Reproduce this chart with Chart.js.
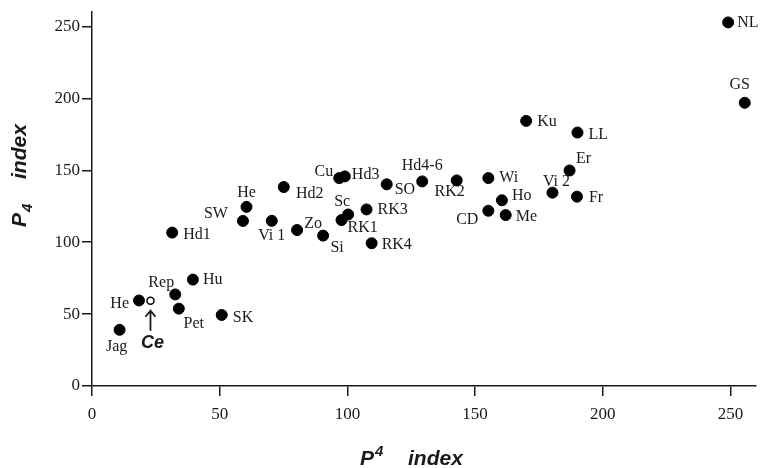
<!DOCTYPE html>
<html>
<head>
<meta charset="utf-8">
<script src="https://cdn.jsdelivr.net/npm/chart.js@4/dist/chart.umd.min.js"></script>
<style>
  html, body { margin: 0; padding: 0; background: #fff; }
  #wrap { width: 765px; height: 468px; position: relative; }
</style>
</head>
<body>
<div id="wrap"><canvas id="chart"></canvas></div>
<script>
// sites and their two indices
const sites = ['He', 'SW', 'Vi 1', 'Hd1', 'Hu', 'Rep', 'He', 'Pet', 'SK', 'Jag',
  'Hd2', 'Cu', 'Hd3', 'SO', 'Hd4-6', 'RK2', 'Zo', 'Si', 'Sc', 'RK1', 'RK3', 'RK4',
  'Wi', 'CD', 'Ho', 'Me', 'Ku', 'LL', 'Er', 'Vi 2', 'Fr', 'NL', 'GS'];
const upperIndex = [60.5, 59.1, 70.4, 31.4, 39.5, 32.6, 18.4, 34, 50.8, 10.8,
  75.1, 96.8, 99, 115.4, 129.3, 142.8, 80.3, 90.5, 100.3, 97.7, 107.5, 109.5,
  155.2, 155.2, 160.5, 162, 170, 190.1, 187, 180.3, 189.9, 249.1, 255.6];
const lowerIndex = [124.6, 114.8, 114.9, 106.7, 74, 63.7, 59.5, 53.8, 49.4, 39.1,
  138.4, 144.6, 145.8, 140.3, 142.3, 143, 108.5, 104.6, 119.3, 115.4, 122.8, 99.3,
  144.6, 121.9, 129.2, 118.9, 184.4, 176.3, 149.9, 134.5, 131.7, 252.9, 197];

// open-circle site
const ceName = 'Ce';
const ceUpper = [22.9];
const ceLower = [59.3];

const xTicks = [0, 50, 100, 150, 200, 250];
const yTicks = [0, 50, 100, 150, 200, 250];

// label placement: [dx, dy, align]
const labelPos = [
  [0, -14, 'center'], [-27, -7, 'center'], [0, 15, 'center'], [11, 2, 'left'], [10, 0, 'left'],
  [-14, -12, 'center'], [-10, 3, 'right'], [15, 15, 'center'], [11, 3, 'left'], [-3, 17, 'center'],
  [26, 7, 'center'], [-6, -6, 'right'], [7, -2, 'left'], [8, 6, 'left'], [0, -16, 'center'],
  [-7, 11, 'center'], [16, -6, 'center'], [14, 12, 'center'], [-6, -13, 'center'], [6, 8, 'left'],
  [11, 0, 'left'], [10, 2, 'left'],
  [11, 0, 'left'], [-10, 9, 'right'], [10, -4, 'left'], [10, 2, 'left'], [11, 1, 'left'],
  [11, 2, 'left'], [14, -12, 'center'], [4, -11, 'center'], [12, 1, 'left'], [9, 0, 'left'],
  [-5, -18, 'center']
];

const ink = '#1a1a1a';
const serif = '"Liberation Serif", "DejaVu Serif", serif';
const sans = '"Liberation Sans", Arial, sans-serif';

function drawTitle(ctx, x0, yb, subShift) {
  ctx.font = 'italic bold 21px ' + sans;
  ctx.fillText('P', x0, yb);
  const w = ctx.measureText('P').width;
  ctx.font = 'italic bold 15px ' + sans;
  ctx.fillText('4', x0 + w + 1, yb + subShift);
  ctx.font = 'italic bold 21px ' + sans;
  ctx.fillText('index', x0 + 48, yb);
}

const labelsPlugin = {
  id: 'siteLabels',
  afterDatasetsDraw(chart) {
    const ctx = chart.ctx;
    const meta = chart.getDatasetMeta(0);
    ctx.save();
    ctx.fillStyle = ink;
    ctx.font = '16px ' + serif;
    ctx.textBaseline = 'middle';
    meta.data.forEach((pt, i) => {
      const [dx, dy, align] = labelPos[i];
      ctx.textAlign = align;
      ctx.fillText(sites[i], pt.x + dx, pt.y + dy);
    });

    // arrow pointing at Ce and its label
    const ce = chart.getDatasetMeta(1).data[0];
    const ax = ce.x;
    const tip = ce.y + 10;
    ctx.strokeStyle = ink;
    ctx.lineWidth = 1.8;
    ctx.beginPath();
    ctx.moveTo(ax, tip + 20);
    ctx.lineTo(ax, tip);
    ctx.moveTo(ax - 5, tip + 6);
    ctx.lineTo(ax, tip);
    ctx.lineTo(ax + 5, tip + 6);
    ctx.stroke();
    ctx.font = 'italic bold 18px ' + sans;
    ctx.textAlign = 'center';
    ctx.fillText(ceName, ax + 2, tip + 32);

    // axis titles with sub/superscript
    ctx.textAlign = 'left';
    ctx.textBaseline = 'alphabetic';
    drawTitle(ctx, 360, 465, -9);

    ctx.translate(26, 227);
    ctx.rotate(-Math.PI / 2);
    drawTitle(ctx, 0, 0, 6);
    ctx.restore();
  }
};

new Chart(document.getElementById('chart'), {
  type: 'scatter',
  data: {
    datasets: [{
      data: upperIndex.map((x, i) => ({ x: x, y: lowerIndex[i] })),
      backgroundColor: '#000',
      borderColor: '#000',
      pointRadius: 5.5,
      pointHoverRadius: 5.5
    }, {
      data: ceUpper.map((x, i) => ({ x: x, y: ceLower[i] })),
      backgroundColor: '#fff',
      borderColor: '#000',
      borderWidth: 1.5,
      pointRadius: 3.5
    }]
  },
  options: {
    responsive: true,
    maintainAspectRatio: false,
    animation: false,
    layout: { padding: { top: 8, right: 9, left: 0, bottom: 0 } },
    plugins: { legend: { display: false }, tooltip: { enabled: false } },
    scales: {
      x: {
        type: 'linear',
        min: 0, max: 260,
        afterBuildTicks: (s) => { s.ticks = xTicks.map(v => ({ value: v })); },
        afterFit: (s) => { s.height = 82; },
        border: { display: true, color: ink, width: 1.5 },
        grid: { drawOnChartArea: false, drawTicks: true, tickLength: 10, color: ink, lineWidth: 1.5 },
        ticks: { color: ink, font: { family: serif, size: 17 }, padding: 8, maxRotation: 0 }
      },
      y: {
        type: 'linear',
        min: 0, max: 260,
        afterBuildTicks: (s) => { s.ticks = yTicks.map(v => ({ value: v })); },
        afterFit: (s) => { s.width = 92; },
        border: { display: true, color: ink, width: 1.5 },
        grid: { drawOnChartArea: false, drawTicks: true, tickLength: 10, color: ink, lineWidth: 1.5 },
        ticks: { color: ink, font: { family: serif, size: 17 }, padding: 2 }
      }
    }
  },
  plugins: [labelsPlugin]
});
</script>
</body>
</html>
